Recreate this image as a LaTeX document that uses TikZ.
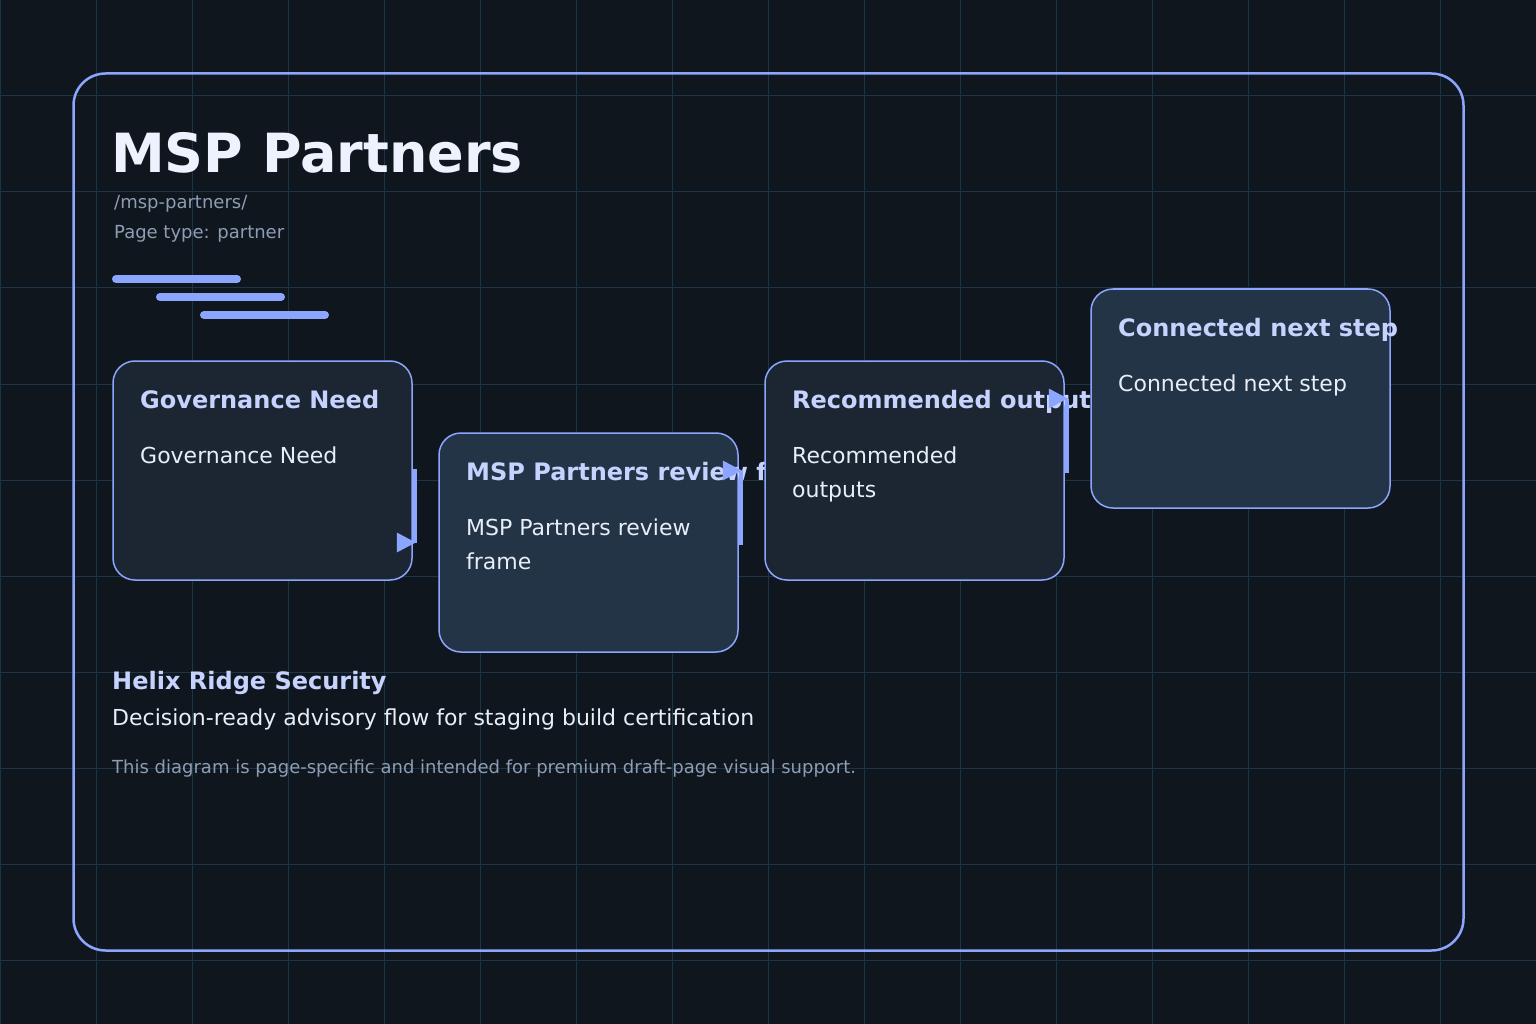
\documentclass[tikz,border=0pt]{standalone}
\usepackage{fontspec}
\setmainfont{DejaVu Sans}
\usetikzlibrary{calc}
\definecolor{bgc}{HTML}{10161E}
\definecolor{gridc}{HTML}{1E3447}
\definecolor{accent}{HTML}{8CA5FF}
\definecolor{fillA}{HTML}{1B2632}
\definecolor{fillB}{HTML}{223445}
\definecolor{titlec}{HTML}{C7D3FF}
\definecolor{bodyc}{HTML}{E8EEF8}
\definecolor{mutedc}{HTML}{8D9DB4}
\definecolor{headc}{HTML}{EEF2FF}
\tikzset{
  gridline/.style={draw=gridc, line width=1pt},
  stepbox/.style={draw=accent, line width=1.5pt, rounded corners=22pt, minimum width=299pt, minimum height=219pt, inner sep=0pt},
  boxA/.style={stepbox, fill=fillA},
  boxB/.style={stepbox, fill=fillB},
  btitle/.style={anchor=base west, inner sep=0pt, text=titlec, font=\fontsize{24pt}{28pt}\selectfont\bfseries},
  bbody/.style={anchor=base west, inner sep=0pt, text=bodyc, font=\fontsize{22pt}{26pt}\selectfont},
  conn/.style={draw=accent, line width=4pt},
  tipc/.style={fill=accent},
  bar/.style={draw=accent, line width=8pt, line cap=round},
}
\begin{document}
\begin{tikzpicture}[x=1pt,y=-1pt]
\useasboundingbox (0,0) rectangle (1536,1024);
\fill[bgc] (0,0) rectangle (1536,1024);
\foreach \g in {0,96,...,1536} {
  \draw[gridline] (\g,0) -- (\g,1024);
  \draw[gridline] (0,\g) -- (1536,\g);
}
\draw[accent, line width=2.5pt, rounded corners=32pt] (73.5,73.5) rectangle (1463.5,950.5);

\node[anchor=base west, inner sep=0pt, text=headc, font=\fontsize{54pt}{60pt}\selectfont\bfseries] (head) at (111,173) {MSP Partners};
\node[anchor=base west, inner sep=0pt, text=mutedc, font=\fontsize{18pt}{21pt}\selectfont] (slug) at (114,209) {/msp-partners/};
\node[anchor=base west, inner sep=0pt, text=mutedc, font=\fontsize{18pt}{21pt}\selectfont] (ptype) at (114,239) {Page type: partner};

\draw[bar] (116,279) -- (237,279);
\draw[bar] (160,297) -- (281,297);
\draw[bar] (204,315) -- (325,315);

% boxes
\node[boxA] (b1) at (262.5,470.5) {};
\node[btitle] (b1t) at (140,408) {Governance Need};
\node[bbody] (b1a) at (140,463) {Governance Need};

\node[boxB] (b2) at (588.5,542.5) {};
\begin{scope}
  \clip (0,0) rectangle (765,1024);
  \node[btitle] (b2t) at (466,480) {\makebox[297pt][l]{MSP Partners review frame}};
\end{scope}
\node[bbody] (b2a) at (466,535) {MSP Partners review};
\node[bbody] (b2b) at (466,569) {frame};

\node[boxA] (b3) at (914.5,470.5) {};
\begin{scope}
  \clip (0,0) rectangle (1091,1024);
  \node[btitle] (b3t) at (792,408) {\makebox[297pt][l]{Recommended outputs}};
\end{scope}
\node[bbody] (b3a) at (792,463) {Recommended};
\node[bbody] (b3b) at (792,497) {outputs};

\node[boxB] (b4) at (1240.5,398.5) {};
\node[btitle] (b4t) at (1118,336) {Connected next step};
\node[bbody] (b4a) at (1118,391) {Connected next step};

% connectors
\foreach \s/\t in {b1/b2,b2/b3,b3/b4} {
  \coordinate (k\s) at ($(\s.east)+(2,0)$);
  \draw[conn] (\s.east) -- (k\s) -- (k\s |- \t.west);
  \fill[tipc] ($(k\s |- \t.west)+(1,0)$) -- ++(-19,-10) -- ++(0,20) -- cycle;
}

\node[anchor=base west, inner sep=0pt, text=titlec, font=\fontsize{24pt}{28pt}\selectfont\bfseries] (org) at (112,689) {Helix Ridge Security};
\node[anchor=base west, inner sep=0pt, text=bodyc, font=\fontsize{22pt}{26pt}\selectfont] (desc) at (112,725) {Decision-ready advisory flow for staging build certification};
\node[anchor=base west, inner sep=0pt, text=mutedc, font=\fontsize{18pt}{21pt}\selectfont] (note) at (112,773) {This diagram is page-specific and intended for premium draft-page visual support.};
\end{tikzpicture}
\end{document}
